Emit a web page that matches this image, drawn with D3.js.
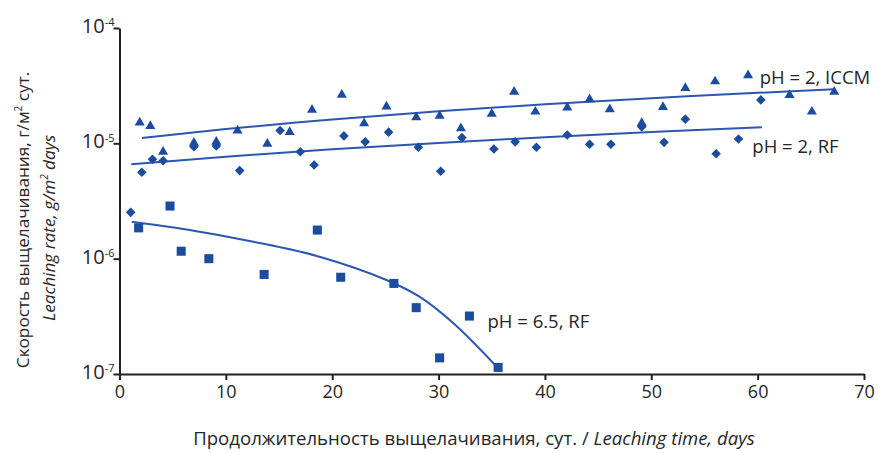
<!DOCTYPE html>
<html>
<head>
<meta charset="utf-8">
<script src="https://cdn.jsdelivr.net/npm/d3@7/dist/d3.min.js"></script>
<style>
  html, body { margin: 0; padding: 0; background: #fff; }
  svg { display: block; }
  text { font-family: "Open Sans", "Liberation Sans", sans-serif; fill: #262626; }
</style>
</head>
<body>
<svg id="chart" width="885" height="453"></svg>
<script>
// ---- data ----
const xTicks = [0, 10, 20, 30, 40, 50, 60, 70];
const yTicks = [1e-7, 1e-6, 1e-5, 1e-4];
const yTickExponents = ["-7", "-6", "-5", "-4"];

// pH = 2, ICCM (triangles)
const iccmDays = [1.9, 2.9, 4.1, 7.0, 9.1, 11.1, 13.9, 16.0, 18.1, 20.9, 23.0, 25.1, 27.9, 30.1, 32.1, 35.0, 37.1, 39.1, 42.1, 44.2, 46.1, 49.1, 51.1, 53.2, 56.0, 63.0, 65.1, 67.2];
const iccmRate = [1.51e-5, 1.41e-5, 8.45e-6, 1.01e-5, 1.03e-5, 1.29e-5, 9.9e-6, 1.25e-5, 1.95e-5, 2.63e-5, 1.49e-5, 2.08e-5, 1.68e-5, 1.73e-5, 1.35e-5, 1.80e-5, 2.79e-5, 1.88e-5, 2.04e-5, 2.41e-5, 1.97e-5, 1.50e-5, 2.06e-5, 3.01e-5, 3.44e-5, 2.62e-5, 1.88e-5, 2.79e-5];
const iccmTrendDays = [2.1, 10, 20, 30, 40, 50, 60, 67.2];
const iccmTrendRate = [1.11e-5, 1.33e-5, 1.61e-5, 1.90e-5, 2.18e-5, 2.46e-5, 2.74e-5, 2.94e-5];

// pH = 2, RF (diamonds)
const rf2Days = [1.05, 2.1, 3.1, 4.1, 7.0, 9.1, 11.3, 15.1, 17.0, 18.3, 21.1, 23.1, 25.3, 28.1, 30.2, 32.2, 35.2, 37.2, 39.2, 42.1, 44.2, 46.2, 49.1, 51.2, 53.2, 56.1, 58.2, 60.3];
const rf2Rate = [2.52e-6, 5.61e-6, 7.28e-6, 7.07e-6, 9.35e-6, 9.48e-6, 5.80e-6, 1.29e-5, 8.45e-6, 6.49e-6, 1.16e-5, 1.03e-5, 1.25e-5, 9.25e-6, 5.72e-6, 1.12e-5, 8.93e-6, 1.03e-5, 9.24e-6, 1.18e-5, 9.82e-6, 9.82e-6, 1.39e-5, 1.02e-5, 1.62e-5, 8.13e-6, 1.09e-5, 2.38e-5];
const rf2TrendDays = [1.1, 10, 20, 30, 40, 50, 60.4];
const rf2TrendRate = [6.58e-6, 7.66e-6, 8.87e-6, 1.009e-5, 1.13e-5, 1.252e-5, 1.378e-5];

// pH = 6.5, RF (squares)
const rf65Days = [1.8, 4.75, 5.8, 8.4, 13.6, 18.6, 20.8, 25.8, 27.9, 32.9, 30.1, 35.6];
const rf65Rate = [1.85e-6, 2.86e-6, 1.16e-6, 1.0e-6, 7.3e-7, 1.77e-6, 6.9e-7, 6.1e-7, 3.76e-7, 3.18e-7, 1.38e-7, 1.14e-7];
const rf65TrendDays = [1.15, 6.3, 12.6, 18.8, 25.1, 28.2, 31.4, 35.45];
const rf65TrendRate = [2.09e-6, 1.79e-6, 1.40e-6, 1.04e-6, 6.53e-7, 4.68e-7, 2.75e-7, 1.16e-7];

const seriesLabels = ["pH = 2, ICCM", "pH = 2, RF", "pH = 6.5, RF"];

// ---- drawing ----
const markColor = "#1c4c9e";
const lineColor = "#2b57b0";
const axisColor = "#222";

const svg = d3.select("#chart");
const x = d3.scaleLinear().domain([0, 70]).range([119.5, 864]);
const y = d3.scaleLog().domain([1e-7, 1e-4]).range([374, 28]);

// trend lines
const line = d3.line().x(d => x(d[0])).y(d => y(d[1])).curve(d3.curveCatmullRom.alpha(0.5));
function drawTrend(days, rates) {
  svg.append("path")
    .datum(days.map((d, i) => [d, rates[i]]))
    .attr("d", line)
    .attr("fill", "none")
    .attr("stroke", lineColor)
    .attr("stroke-width", 2);
}
drawTrend(iccmTrendDays, iccmTrendRate);
drawTrend(rf2TrendDays, rf2TrendRate);
drawTrend(rf65TrendDays, rf65TrendRate);

// markers
const triangle = d3.symbol().type(d3.symbolTriangle).size(44);
const square = d3.symbol().type(d3.symbolSquare).size(82);
const diamond = d3.symbol().type(d3.symbolSquare).size(46);

function drawPoints(days, rates, path, rotate) {
  svg.append("g").selectAll("path")
    .data(days.map((d, i) => [d, rates[i]]))
    .join("path")
    .attr("d", path)
    .attr("fill", markColor)
    .attr("transform", d => `translate(${x(d[0])},${y(d[1])})` + (rotate ? " rotate(45)" : ""));
}
drawPoints(rf65Days, rf65Rate, square, false);
drawPoints(rf2Days, rf2Rate, diamond, true);
drawPoints(iccmDays, iccmRate, triangle, false);

// axes
const xAxis = d3.axisBottom(x).tickValues(xTicks).tickSize(6).tickSizeOuter(0).tickPadding(5);
const gx = svg.append("g").attr("transform", `translate(0,${y(1e-7)})`).call(xAxis);
gx.selectAll("text").attr("font-size", 18).attr("fill", "#262626").style("font-family", '"Open Sans", sans-serif');

const yAxis = d3.axisLeft(y).tickValues(yTicks).tickSize(6).tickSizeOuter(0).tickFormat(() => "");
const gy = svg.append("g").attr("transform", `translate(${x(0)},0)`).call(yAxis);
gy.selectAll(".tick text").each(function(d) {
  const t = d3.select(this);
  t.text(null).attr("x", -5).attr("dy", "0.22em").attr("font-size", 20)
    .attr("fill", "#262626").style("font-family", '"Open Sans", sans-serif');
  t.append("tspan").text("10");
  t.append("tspan").text(yTickExponents[yTicks.indexOf(d)]).attr("font-size", 11).attr("dy", "-0.6em");
});
[gx, gy].forEach(g => {
  g.selectAll(".domain").attr("stroke", axisColor).attr("stroke-width", 2);
  g.selectAll(".tick line").attr("stroke", axisColor).attr("stroke-width", 2);
});

// series labels
svg.append("path").attr("d", triangle).attr("fill", markColor)
  .attr("transform", `translate(${x(59.1)},${y(3.88e-5)})`);
svg.append("text").attr("x", x(60.2)).attr("y", y(3.3e-5)).attr("font-size", 18.5).text(seriesLabels[0]);
svg.append("text").attr("x", x(59.5)).attr("y", y(8.3e-6)).attr("font-size", 18.5).text(seriesLabels[1]);
svg.append("text").attr("x", x(34.6)).attr("y", y(2.5e-7)).attr("font-size", 18.5).text(seriesLabels[2]);

// axis titles
const xt = svg.append("text").attr("x", 474).attr("y", 445).attr("text-anchor", "middle").attr("font-size", 18.6);
xt.append("tspan").text("Продолжительность выщелачивания, сут. / ");
xt.append("tspan").text("Leaching time, days").attr("font-style", "italic");

const yt1 = svg.append("text").attr("transform", "translate(28.5,220) rotate(-90)").attr("text-anchor", "middle").attr("font-size", 17.2);
yt1.append("tspan").text("Скорость выщелачивания, г/м");
yt1.append("tspan").text("2").attr("font-size", 10).attr("dy", -7);
yt1.append("tspan").text(" сут.").attr("dy", 7);

const yt2 = svg.append("text").attr("transform", "translate(55,228) rotate(-90)").attr("text-anchor", "middle").attr("font-size", 17.2).attr("font-style", "italic");
yt2.append("tspan").text("Leaching rate, g/m");
yt2.append("tspan").text("2").attr("font-size", 10).attr("dy", -7);
yt2.append("tspan").text(" days").attr("dy", 7);
</script>
</body>
</html>
